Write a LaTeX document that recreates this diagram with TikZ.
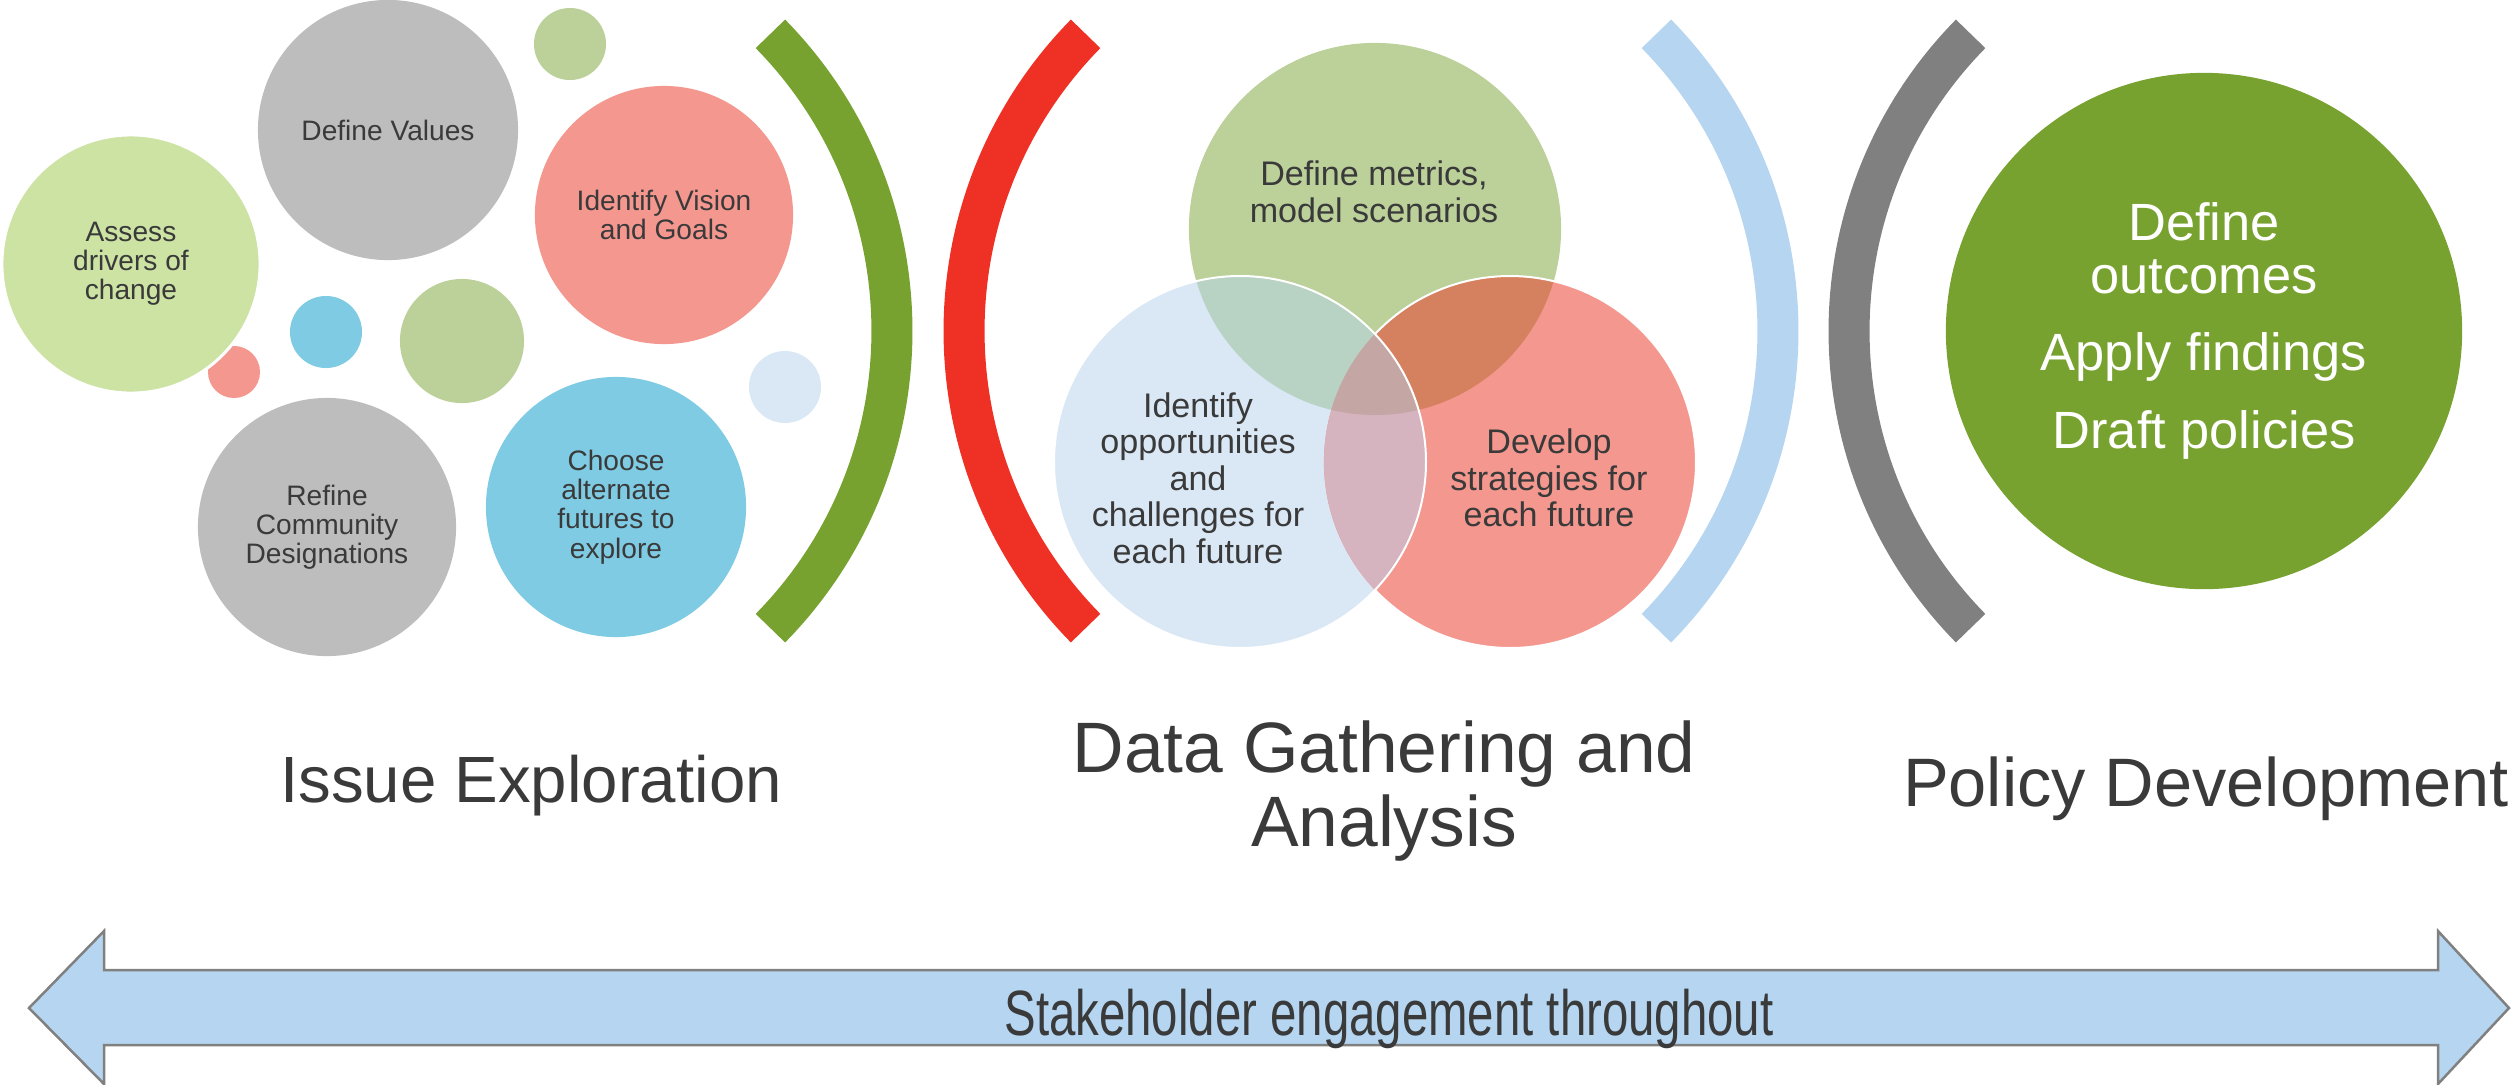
\documentclass[tikz,border=0pt]{standalone}
\usepackage{fontspec}
\setmainfont{Liberation Sans}
\usepackage{graphicx}

\definecolor{leafgreen}{HTML}{CDE3A4}
\definecolor{stonegray}{HTML}{BDBDBD}
\definecolor{sagegreen}{HTML}{BCD09A}
\definecolor{salmon}{HTML}{F4978F}
\definecolor{skyblue}{HTML}{7FCBE3}
\definecolor{paleblue}{HTML}{DAE8F5}
\definecolor{olive}{HTML}{78A22F}
\definecolor{signalred}{HTML}{EE3124}
\definecolor{iceblue}{HTML}{B5D5F0}
\definecolor{arcgray}{HTML}{808080}
\definecolor{inkgray}{HTML}{3A3A3A}
\definecolor{greenblue}{HTML}{B8D2C4}
\definecolor{greensalmon}{HTML}{D5805E}
\definecolor{bluesalmon}{HTML}{D5B3BF}
\definecolor{allthree}{HTML}{C4A7A4}

\begin{document}
\begin{tikzpicture}[x=0.01cm,y=-0.01cm,
  bubble/.style={circle,inner sep=0pt,minimum size=#1,align=center,text=inkgray,
    font=\fontsize{8}{8.3}\selectfont},
  dot/.style={circle,inner sep=0pt,minimum size=#1},
  venntext/.style={align=center,inner sep=0pt,text=inkgray,font=\fontsize{9.7}{10.4}\selectfont},
  phase/.style={align=center,inner sep=0pt,text=inkgray},
  bracket/.style={line width=0.41cm}]
   \useasboundingbox (0,0) rectangle (2511,1084);

   \node[dot=0.52cm,fill=salmon] (dotsalmon) at (234,372) {};
   \node[bubble=2.58cm,fill=leafgreen,draw=white,line width=0.03cm] (drivers) at (131,264) {Assess\\drivers of\\change};
   \node[bubble=2.60cm,fill=stonegray] (values) at (388,130) {Define Values};
   \node[dot=0.72cm,fill=sagegreen] (dottop) at (570,44) {};
   \node[bubble=2.58cm,fill=salmon] (vision) at (664,215) {Identify Vision\\and Goals};
   \node[dot=0.72cm,fill=skyblue] (dotblue) at (326,332) {};
   \node[dot=1.24cm,fill=sagegreen] (dotgreen) at (462,341) {};
   \node[dot=0.72cm,fill=paleblue] (dotpale) at (785,387) {};
   \node[bubble=2.58cm,fill=stonegray] (designations) at (327,527) {Refine\\Community\\Designations};
   \node[bubble=2.60cm,fill=skyblue] (futures) at (616,507) {Choose\\alternate\\futures to\\explore};

   \draw[bracket,color=olive] (468,331) ++(-44.5:424) arc[start angle=-44.5,end angle=44.5,radius=424];
   \draw[bracket,color=signalred] (1388,331) ++(135.5:424) arc[start angle=135.5,end angle=224.5,radius=424];
   \draw[bracket,color=iceblue] (1354,331) ++(-44.5:424) arc[start angle=-44.5,end angle=44.5,radius=424];
   \draw[bracket,color=arcgray] (2273,331) ++(135.5:424) arc[start angle=135.5,end angle=224.5,radius=424];

   \node[dot=3.72cm,fill=sagegreen] (metrics) at (1375,229) {};
   \node[dot=3.72cm,fill=paleblue] (chances) at (1240,462) {};
   \node[dot=3.72cm,fill=salmon] (strategies) at (1510,462) {};
   \begin{scope}
     \clip (metrics.center) circle (186);
     \fill[greenblue] (chances.center) circle (186);
     \fill[greensalmon] (strategies.center) circle (186);
   \end{scope}
   \begin{scope}
     \clip (chances.center) circle (186);
     \fill[bluesalmon] (strategies.center) circle (186);
     \clip (metrics.center) circle (186);
     \fill[allthree] (strategies.center) circle (186);
   \end{scope}
   \draw[white,line width=0.02cm] (strategies.center) ++(-136.6:186) arc[start angle=-136.6,end angle=136.6,radius=186];
   \draw[white,line width=0.02cm] (chances.center) circle (186);
   \node[venntext] (metricstext) at (1374,192) {Define metrics,\\model scenarios};
   \node[venntext] (chancestext) at (1198,478) {Identify\\opportunities\\and\\challenges for\\each future};
   \node[venntext] (strategiestext) at (1549,478) {Develop\\strategies for\\each future};

   \node[circle,inner sep=0pt,minimum size=5.16cm,fill=olive,text=white,align=center,
     font=\fontsize{14.9}{15.1}\selectfont] (outcomes) at (2204,331)
     {Define\\outcomes\\[0.23cm]Apply findings\\[0.25cm]Draft policies};

   \node[phase,anchor=base,font=\fontsize{18.6}{20}\selectfont] (issue) at (531,802) {Issue Exploration};
   \node[phase,font=\fontsize{20.3}{21.05}\selectfont] (gathering) at (1384,791) {Data Gathering and\\Analysis};
   \node[phase,anchor=base,font=\fontsize{19.5}{21}\selectfont] (policy) at (2206,806) {Policy Development};

   \draw[fill=iceblue,draw=gray,line width=0.025cm] (29,1008) -- (104,931) -- (104,970)
     -- (2438,970) -- (2438,931) -- (2509,1008) -- (2438,1084) -- (2438,1045)
     -- (104,1045) -- (104,1084) -- cycle;
   \node[phase,anchor=base,font=\fontsize{18.2}{19}\selectfont] (engagement) at (1389,1035)
     {\scalebox{0.74}[1]{Stakeholder engagement throughout}};
\end{tikzpicture}
\end{document}
